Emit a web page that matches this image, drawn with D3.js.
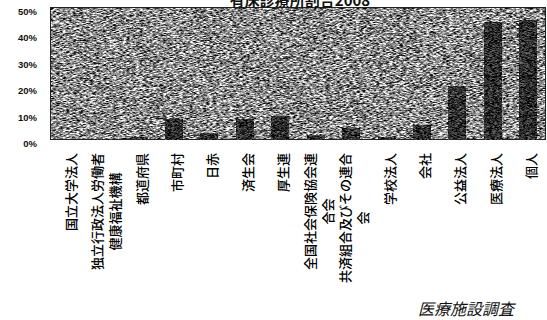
<!DOCTYPE html>
<html>
<head>
<meta charset="utf-8">
<script src="https://cdn.jsdelivr.net/npm/d3@7"></script>
<style>
  body { margin: 0; background: #fff; }
  svg { display: block; }
</style>
</head>
<body>
<svg id="canvas"></svg>
<script>
const title = "有床診療所割合2008";
const source = "医療施設調査";
const categories = [
    "国立大学法人", "独立行政法人労働者\n健康福祉機構", "都道府県", "市町村", "日赤",
    "済生会", "厚生連", "全国社会保険協会連\n合会", "共済組合及びその連合\n会",
    "学校法人", "会社", "公益法人", "医療法人", "個人"
];
const values = [0, 0.1, 0.8, 7.6, 2.2, 7.6, 8.9, 1.5, 4.3, 0.9, 5.3, 20.2, 44.5, 45.1];
const yTicks = [0, 10, 20, 30, 40, 50];

const width = 547;
const height = 320;
const plot = { x0: 50, x1: 546, y0: 7, y1: 140 };

const svg = d3.select("#canvas")
    .attr("width", width)
    .attr("height", height);

// scanned-looking textures
const defs = svg.append("defs");
function noiseFilter(id, freq, gain, offset, seed) {
    const f = defs.append("filter").attr("id", id)
        .attr("x", 0).attr("y", 0).attr("width", 1).attr("height", 1)
        .attr("color-interpolation-filters", "sRGB");
    f.append("feTurbulence")
        .attr("type", "fractalNoise")
        .attr("baseFrequency", freq)
        .attr("numOctaves", 2)
        .attr("seed", seed);
    const m = `${gain} 0 0 0 ${offset}`;
    f.append("feColorMatrix")
        .attr("type", "matrix")
        .attr("values", `${m} ${m} ${m} 0 0 0 0 1`);
}
noiseFilter("bgNoise", "0.3 1.4", 2.1, -0.5, 3);
noiseFilter("barNoise", "0.4 1.6", 1.1, -0.38, 7);

const x = d3.scaleBand()
    .domain(categories)
    .range([plot.x0, plot.x1])
    .paddingInner(0.52)
    .paddingOuter(0.26);
const y = d3.scaleLinear()
    .domain([0, 50])
    .range([139.5, 7.5]);

// plot area
svg.append("rect")
    .attr("x", plot.x0).attr("y", plot.y0)
    .attr("width", plot.x1 - plot.x0).attr("height", plot.y1 - plot.y0)
    .attr("fill", "#888")
    .attr("filter", "url(#bgNoise)");

svg.append("g").selectAll("line")
    .data(yTicks.slice(1))
    .join("line")
    .attr("x1", plot.x0).attr("x2", plot.x1)
    .attr("y1", d => y(d)).attr("y2", d => y(d))
    .attr("stroke", "#333").attr("stroke-opacity", 0.3);

svg.append("rect")
    .attr("x", plot.x0 + 0.5).attr("y", plot.y0 + 0.5)
    .attr("width", plot.x1 - plot.x0 - 1).attr("height", plot.y1 - plot.y0 - 1)
    .attr("fill", "none")
    .attr("stroke", "#222");

// bars
svg.append("g").selectAll("rect")
    .data(categories)
    .join("rect")
    .attr("x", d => x(d))
    .attr("width", x.bandwidth())
    .attr("y", (d, i) => y(values[i]))
    .attr("height", (d, i) => y(0) - y(values[i]))
    .attr("fill", "#333")
    .attr("filter", "url(#barNoise)");

// y axis labels
svg.append("g").selectAll("text")
    .data(yTicks)
    .join("text")
    .attr("x", 37)
    .attr("y", d => y(d) + 7.5)
    .attr("text-anchor", "end")
    .attr("font-family", "Liberation Sans, Arial, sans-serif")
    .attr("font-weight", "bold")
    .attr("font-size", 9.5)
    .attr("fill", "#111")
    .text(d => d + "%");

// category labels, rotated, block aligned at the axis, lines centred
const labelTop = 153;
const lineGap = 18;
const labels = svg.append("g")
    .attr("font-family", "'Noto Sans CJK JP', sans-serif")
    .attr("font-weight", 500)
    .attr("font-size", 13)
    .attr("fill", "#000");
categories.forEach(c => {
    const lines = c.split("\n");
    const cx = x(c) + x.bandwidth() / 2 + 2.5 - (lines.length - 1) * lineGap / 2;
    const g = labels.append("g")
        .attr("transform", `translate(${cx}, ${labelTop}) rotate(-90)`);
    const texts = lines.map((ln, k) => g.append("text")
        .attr("y", k * lineGap)
        .attr("dominant-baseline", "central")
        .attr("text-anchor", "middle")
        .text(ln));
    const maxLen = d3.max(texts, t => t.node().getComputedTextLength());
    texts.forEach(t => t.attr("x", -maxLen / 2));
});

// title (clipped at the top in the source)
svg.append("text")
    .attr("x", 300)
    .attr("y", 6)
    .attr("text-anchor", "middle")
    .attr("font-family", "'Noto Sans CJK JP', sans-serif")
    .attr("font-weight", "bold")
    .attr("font-size", 15)
    .attr("fill", "#111")
    .text(title);

svg.append("text")
    .attr("x", 466)
    .attr("y", 315)
    .attr("text-anchor", "middle")
    .attr("font-family", "'Noto Sans CJK JP', sans-serif")
    .attr("font-style", "italic")
    .attr("font-size", 16)
    .attr("fill", "#111")
    .text(source);
</script>
</body>
</html>
